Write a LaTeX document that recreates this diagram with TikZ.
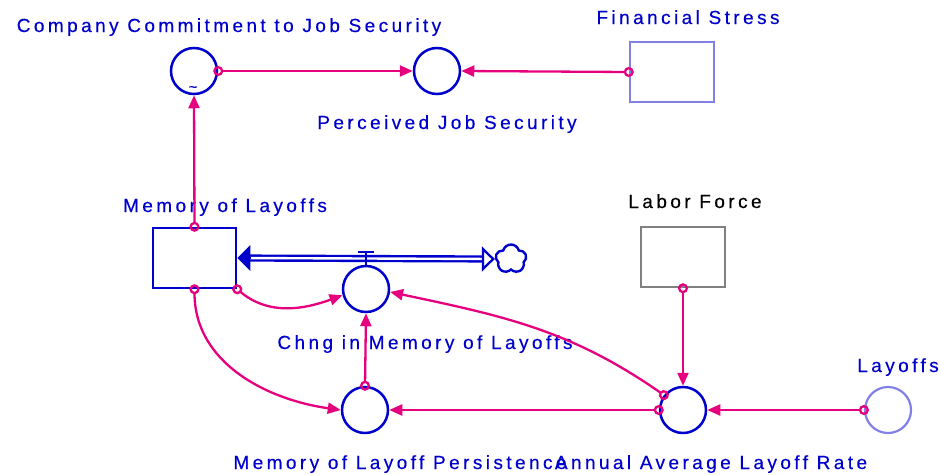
\documentclass[tikz,border=0pt]{standalone}
\usepackage{fontspec}
\newfontfamily\vensimfont[LetterSpace=18, FakeBold=0.4]{Liberation Sans}
\usetikzlibrary{arrows.meta,shapes.symbols}
\definecolor{vblue}{RGB}{0,0,205}
\definecolor{vlight}{RGB}{128,128,230}
\definecolor{vpink}{RGB}{230,0,126}
\definecolor{vgray}{RGB}{128,128,128}

\begin{document}
\begin{tikzpicture}[
  x=1pt, y=1pt,
  aux/.style={circle, draw=vblue, line width=2.5pt, inner sep=0pt, minimum size=46pt},
  stock/.style={draw=vblue, line width=2.5pt, inner sep=0pt, minimum width=83pt, minimum height=60pt},
  lbl/.style={font=\vensimfont\fontsize{19}{22}\selectfont, text=vblue, anchor=base, inner sep=0pt},
  link/.style={vpink, line width=2.3pt, shorten <=-5pt,
    {Circle[open, length=10pt, width=10pt]}-{Triangle[length=13pt, width=11pt]}},
  pipe/.style={vblue, line width=2.4pt, double, double distance=2.4pt, shorten <=12pt, shorten >=12pt},
  pipehead/.style={vblue, line width=2.3pt}
]
\useasboundingbox (0,0) rectangle (941,-474);

% stocks and auxiliaries
\node[aux] (company) at (194,-71) {};
\node[aux] (perceived) at (437,-71) {};
\node[stock, draw=vlight, minimum width=84pt] (financial) at (672,-72) {};
\node[stock] (mem) at (194.5,-258) {};
\node[stock, draw=vgray, minimum width=84pt] (labor) at (683,-257) {};
\node[aux] (chng) at (366,-289) {};
\node[aux] (persist) at (365,-410) {};
\node[aux] (annual) at (683,-410) {};
\node[aux, draw=vlight, line width=2.2pt] (layoffs) at (888,-410) {};
\node[cloud, cloud puffs=5, aspect=1, draw=vblue, line width=2.4pt, inner sep=0pt,
  minimum width=31pt, minimum height=29pt] (cloud) at (511,-259) {};
\node[text=vblue, font=\vensimfont\fontsize{15}{15}\selectfont, inner sep=0pt] (tilde) at (193,-89) {\string~};

% labels
\node[lbl] (companylbl) at (229,-32) {Company Commitment to Job Security};
\node[lbl] (financiallbl) at (688,-24) {Financial Stress};
\node[lbl] (perceivedlbl) at (447,-129) {Perceived Job Security};
\node[lbl] (memlbl) at (225,-212) {Memory of Layoffs};
\node[lbl, text=black] (laborlbl) at (695,-208) {Labor Force};
\node[lbl] (chnglbl) at (425,-349) {Chng in Memory of Layoffs};
\node[lbl] (layoffslbl) at (898,-372) {Layoffs};
\node[lbl] (persistlbl) at (400,-469) {Memory of Layoff Persistence};
\node[lbl] (annuallbl) at (711,-469) {Annual Average Layoff Rate};

% flow with valve
\draw[pipe] (cloud.west) -- (mem.east);
\draw[pipehead, -{Triangle[length=13pt, width=25pt]}] ([xshift=13pt]mem.east) -- (mem.east);
\draw[pipehead, -{Triangle[open, length=13pt, width=25pt]}] ([xshift=-13pt]cloud.west) -- (cloud.west);
\draw[vblue, line width=2.3pt] (chng.north) -- ++(0,13) coordinate (valve);
\draw[vblue, line width=2.3pt] ([xshift=-8pt]valve) -- ([xshift=8pt]valve);

% connectors
\draw[link] (company.east) -- (perceived.west);
\draw[link] (financial.west) -- (perceived.east);
\draw[link] (mem.north) -- (company.south);
\draw[link] (mem.south east) to[out=-40, in=200] (chng.195);
\draw[link] (mem.south) to[out=-90, in=172] (persist.west);
\draw[link] (persist.north) -- (chng.south);
\draw[link] (annual.142) to[out=145, in=-12] (chng.-7);
\draw[link] (annual.west) -- (persist.east);
\draw[link] (labor.south) -- (annual.north);
\draw[link] (layoffs.west) -- (annual.east);
\end{tikzpicture}
\end{document}
